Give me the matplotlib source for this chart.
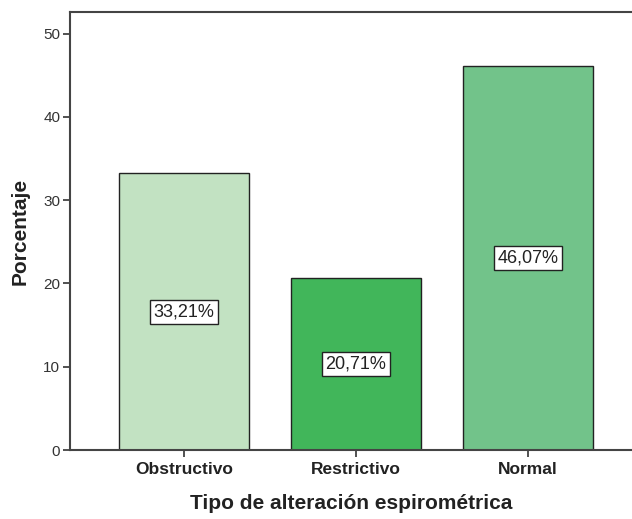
import matplotlib.pyplot as plt

categories = ['Obstructivo', 'Restrictivo', 'Normal']
percentages = [33.21, 20.71, 46.07]
colors = ['#c2e2c2', '#41b65a', '#72c38a']

plt.rcParams['font.family'] = ['Liberation Sans', 'DejaVu Sans']

fig = plt.figure(figsize=(6.32, 5.19), dpi=100)
ax = fig.add_axes([70 / 632, 69 / 519, 1 - 70 / 632, 438 / 519])

x = range(len(categories))
ax.bar(x, percentages, width=0.756, color=colors, edgecolor='#222222', linewidth=1.0)

# value labels in boxes, centred in each bar
for i, v in zip(x, percentages):
    ax.text(i, v / 2, f"{v:.2f}%".replace('.', ','), ha='center', va='center',
            fontsize=13, color='#222222',
            bbox=dict(boxstyle='square,pad=0.2', facecolor='white', edgecolor='#222222', linewidth=1.0))

ax.set_xlim(-0.663, 2.605)
ax.set_ylim(0, 52.6)
ax.set_yticks([0, 10, 20, 30, 40, 50])
ax.set_xticks(list(x))
ax.set_xticklabels(categories, fontsize=12.5, fontweight='bold', color='#222222')
ax.tick_params(axis='y', labelsize=11, labelcolor='#333333', length=5, width=1.2, color='#333333', pad=2)
ax.tick_params(axis='x', length=5, width=1.2, color='#333333', pad=4)

for s in ['left', 'bottom', 'top']:
    ax.spines[s].set_color('#444444')
    ax.spines[s].set_linewidth(1.5)
ax.spines['right'].set_visible(False)

ax.set_ylabel('Porcentaje', fontsize=15, fontweight='bold', color='#222222', labelpad=10)
ax.set_xlabel('Tipo de alteración espirométrica', fontsize=15, fontweight='bold', color='#222222', labelpad=12)

fig.savefig('out.png', dpi=100)
